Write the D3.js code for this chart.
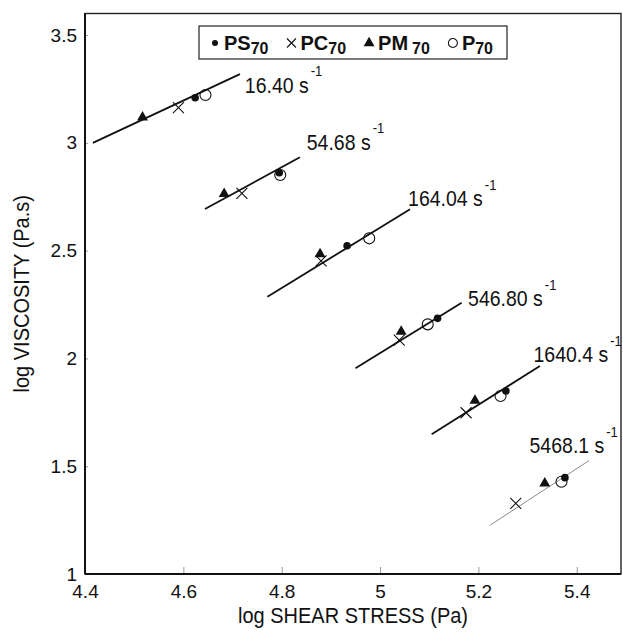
<!DOCTYPE html>
<html>
<head>
<meta charset="utf-8">
<script src="https://cdn.jsdelivr.net/npm/d3@7"></script>
<style>
  html, body { margin: 0; padding: 0; background: #fff; }
  svg { display: block; font-family: "Liberation Sans", Arial, Helvetica, sans-serif; }
</style>
</head>
<body>
<svg id="chart" width="623" height="633"></svg>
<script>
// Shear rates (s^-1) of the six isorate groups
const rates = ["16.40", "54.68", "164.04", "546.80", "1640.4", "5468.1"];

// log shear stress (Pa) and log viscosity (Pa.s) for each blend, one value per shear rate
const stressPS = [4.624, 4.795, 4.933, 5.117, 5.256, 5.376];
const viscPS   = [3.209, 2.861, 2.523, 2.186, 1.849, 1.447];
const stressPC = [4.590, 4.719, 4.880, 5.039, 5.175, 5.276];
const viscPC   = [3.163, 2.766, 2.453, 2.085, 1.748, 1.328];
const stressPM = [4.517, 4.683, 4.878, 5.043, 5.193, 5.335];
const viscPM   = [3.118, 2.763, 2.484, 2.124, 1.804, 1.421];
const stressP  = [4.645, 4.797, 4.978, 5.097, 5.245, 5.369];
const viscP    = [3.222, 2.851, 2.557, 2.158, 1.826, 1.428];

// Fitted isorate lines: start and end points in data units
const fitX0 = [4.416, 4.644, 4.771, 4.950, 5.105, 5.224];
const fitY0 = [3.000, 2.693, 2.286, 1.954, 1.648, 1.227];
const fitX1 = [4.715, 4.837, 5.061, 5.166, 5.325, 5.425];
const fitY1 = [3.319, 2.933, 2.692, 2.258, 1.965, 1.526];

// Anchor of each shear-rate annotation (data units, text baseline)
const labelX = [4.725, 4.851, 5.057, 5.179, 5.312, 5.304];
const labelY = [3.232, 2.967, 2.707, 2.243, 1.982, 1.560];

// Axis ticks
const xTicks = [4.4, 4.6, 4.8, 5, 5.2, 5.4];
const yTicks = [1, 1.5, 2, 2.5, 3, 3.5];

// Legend entries
const legendNames = ["PS", "PC", "PM", "P"];
const legendSub = "70";

const svg = d3.select("#chart");
const STRETCH = 1.1; // the typeface is set slightly tall and narrow

const x = d3.scaleLinear().domain([4.4, 5.49]).range([85, 621]);
const y = d3.scaleLinear().domain([1, 3.6]).range([574, 13.5]);

// Axes
const xAxis = d3.axisBottom(x)
  .tickValues(xTicks)
  .tickFormat(d3.format(""))
  .tickSizeInner(-7)
  .tickSizeOuter(0)
  .tickPadding(11);
const yAxis = d3.axisLeft(y)
  .tickValues(yTicks)
  .tickFormat(d3.format(""))
  .tickSizeInner(-3)
  .tickSizeOuter(0)
  .tickPadding(8);

const gx = svg.append("g").attr("transform", `translate(0,${y(1)})`).call(xAxis);
const gy = svg.append("g").attr("transform", `translate(${x(4.4)},0)`).call(yAxis);
[gx, gy].forEach(g => {
  g.select(".domain").remove();
  g.selectAll(".tick line").attr("stroke", "#999").attr("stroke-width", 1);
  g.selectAll(".tick text")
    .attr("font-size", 19)
    .attr("fill", "#111")
    .attr("font-family", "Liberation Sans, Arial, sans-serif");
});

// Plot frame
svg.append("rect")
  .attr("x", x(4.4)).attr("y", y(3.6))
  .attr("width", x(5.49) - x(4.4)).attr("height", y(1) - y(3.6))
  .attr("fill", "none").attr("stroke", "#222").attr("stroke-width", 1.4);
svg.append("line")
  .attr("x1", x(4.4)).attr("x2", x(4.4)).attr("y1", y(3.6)).attr("y2", y(1))
  .attr("stroke", "#111").attr("stroke-width", 2);
svg.append("line")
  .attr("x1", x(4.4)).attr("x2", x(5.49)).attr("y1", y(1)).attr("y2", y(1))
  .attr("stroke", "#111").attr("stroke-width", 2);

// Axis titles
svg.append("g")
  .attr("transform", `translate(${(x(4.4) + x(5.49)) / 2},623) scale(1,${STRETCH})`)
  .append("text")
  .attr("text-anchor", "middle").attr("font-size", 20).attr("fill", "#111")
  .text("log SHEAR STRESS (Pa)");
svg.append("g")
  .attr("transform", `translate(29,${(y(1) + y(3.6)) / 2}) rotate(-90) scale(1,${STRETCH})`)
  .append("text")
  .attr("text-anchor", "middle").attr("font-size", 20).attr("fill", "#111")
  .text("log VISCOSITY (Pa.s)");

// Isorate fitted lines
const idx = d3.range(rates.length);
svg.append("g").selectAll("line").data(idx).join("line")
  .attr("x1", i => x(fitX0[i])).attr("y1", i => y(fitY0[i]))
  .attr("x2", i => x(fitX1[i])).attr("y2", i => y(fitY1[i]))
  .attr("stroke", i => i === rates.length - 1 ? "#8a8a8a" : "#111")
  .attr("stroke-width", i => i === rates.length - 1 ? 1 : 1.8);

// Marker drawers
const triPath = d3.symbol(d3.symbolTriangle).size(52)();
function drawCross(g, s) {
  g.append("path")
    .attr("d", `M${-s},${-s}L${s},${s}M${-s},${s}L${s},${-s}`)
    .attr("stroke", "#111").attr("stroke-width", 1.1).attr("fill", "none");
}
function drawOpen(g, r) {
  g.append("circle").attr("r", r).attr("fill", "none")
    .attr("stroke", "#111").attr("stroke-width", 1.1);
}
function drawFilled(g, r) {
  g.append("circle").attr("r", r).attr("fill", "#111");
}
function drawTri(g) {
  g.append("path").attr("d", triPath).attr("fill", "#111");
}

const marks = svg.append("g");
idx.forEach(i => drawOpen(marks.append("g").attr("transform", `translate(${x(stressP[i])},${y(viscP[i])})`), 5.5));
idx.forEach(i => drawTri(marks.append("g").attr("transform", `translate(${x(stressPM[i])},${y(viscPM[i])})`)));
idx.forEach(i => drawCross(marks.append("g").attr("transform", `translate(${x(stressPC[i])},${y(viscPC[i])})`), 5.5));
idx.forEach(i => drawFilled(marks.append("g").attr("transform", `translate(${x(stressPS[i])},${y(viscPS[i])})`), 3.8));

// Shear-rate annotations
const ann = svg.append("g").selectAll("g").data(idx).join("g")
  .attr("transform", i => `translate(${x(labelX[i])},${y(labelY[i])}) scale(1,${STRETCH})`)
  .append("text")
  .attr("font-size", 19.5).attr("fill", "#111");
ann.append("tspan").text(i => rates[i] + " s");
ann.append("tspan").attr("dx", 2).attr("dy", -15).attr("font-size", 13).text("-1");

// Legend
const lg = svg.append("g");
lg.append("rect")
  .attr("x", 199).attr("y", 26).attr("width", 308).attr("height", 33)
  .attr("fill", "#fff").attr("stroke", "#222").attr("stroke-width", 1.2);
const markerDraw = [
  g => drawFilled(g, 3),
  g => drawCross(g, 4.5),
  g => drawTri(g),
  g => drawOpen(g, 4.5)
];
let cursor = 209;
legendNames.forEach((name, k) => {
  const mg = lg.append("g").attr("transform", `translate(${cursor + 6},43)`);
  markerDraw[k](mg);
  const t = lg.append("text")
    .attr("x", cursor + 15).attr("y", 50)
    .attr("font-size", 20).attr("font-weight", "bold").attr("fill", "#111");
  t.append("tspan").text(name);
  t.append("tspan").attr("dx", name === "PM" ? 4 : 0).attr("dy", 4)
    .attr("font-size", 16).attr("font-weight", "bold").text(legendSub);
  cursor += 15 + t.node().getComputedTextLength() + (name === "PM" ? 4 : 0) + 17;
});
</script>
</body>
</html>
